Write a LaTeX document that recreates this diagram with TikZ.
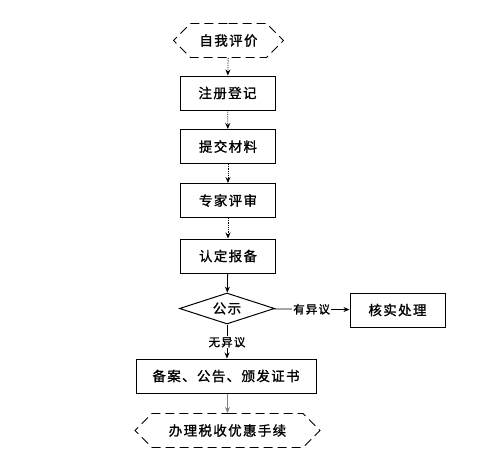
\documentclass[tikz,border=0pt]{standalone}
\usepackage{fontspec}
\setmainfont{Noto Sans CJK SC}
\newfontfamily\cjkfont[LetterSpace=10,FakeBold=1.2]{Noto Sans CJK SC}
\usetikzlibrary{shapes.geometric,shapes.symbols,arrows.meta}
\begin{document}
\begin{tikzpicture}[x=1pt,y=1pt,
  every node/.style={font=\cjkfont\fontsize{13.5}{16}\selectfont},
  stepbox/.style={draw,line width=1pt,minimum width=95pt,minimum height=34pt,inner sep=2pt},
  hexbox/.style={draw,dash pattern=on 9pt off 5pt,line width=0.9pt,signal,signal to=west and east,signal pointer angle=90,minimum height=34pt,inner sep=3pt},
  dec/.style={draw,line width=1pt,diamond,aspect=3,minimum width=95pt,minimum height=31pt,inner sep=0pt},
  lab/.style={fill=white,inner sep=1pt,font=\cjkfont\fontsize{11.5}{13}\selectfont},
  arr/.style={-{Stealth[length=6pt,width=5pt]},line width=0.8pt},
  dotarr/.style={arr,densely dotted}]
\useasboundingbox (0,0) rectangle (480,-475);
\node[hexbox,minimum width=110pt] (start) at (228.5,-40.5) {自我评价};
\node[stepbox] (s1) at (227.5,-93) {注册登记};
\node[stepbox] (s2) at (228,-146.5) {提交材料};
\node[stepbox] (s3) at (228,-200.5) {专家评审};
\node[stepbox] (s4) at (228,-256) {认定报备};
\node[dec] (pub) at (227,-308.5) {公示};
\node[stepbox,minimum width=95pt] (check) at (397.5,-310) {核实处理};
\node[stepbox,minimum width=180pt] (rec) at (226,-376) {备案、公告、颁发证书};
\node[hexbox,minimum width=185pt] (end) at (227.5,-430.5) {办理税收优惠手续};
\draw[dotarr] (start) -- (s1);
\draw[dotarr] (s1) -- (s2);
\draw[dotarr] (s2) -- (s3);
\draw[dotarr] (s3) -- (s4);
\draw[arr] (s4) -- (pub);
\draw[arr] (pub) -- node[lab] (yes) {有异议} (check);
\draw[arr] (pub.south) -- node[lab,pos=0.52] (no) {无异议} (pub.south |- rec.north);
\draw[arr,gray] (rec.south -| end.north) -- (end.north);
\end{tikzpicture}
\end{document}
